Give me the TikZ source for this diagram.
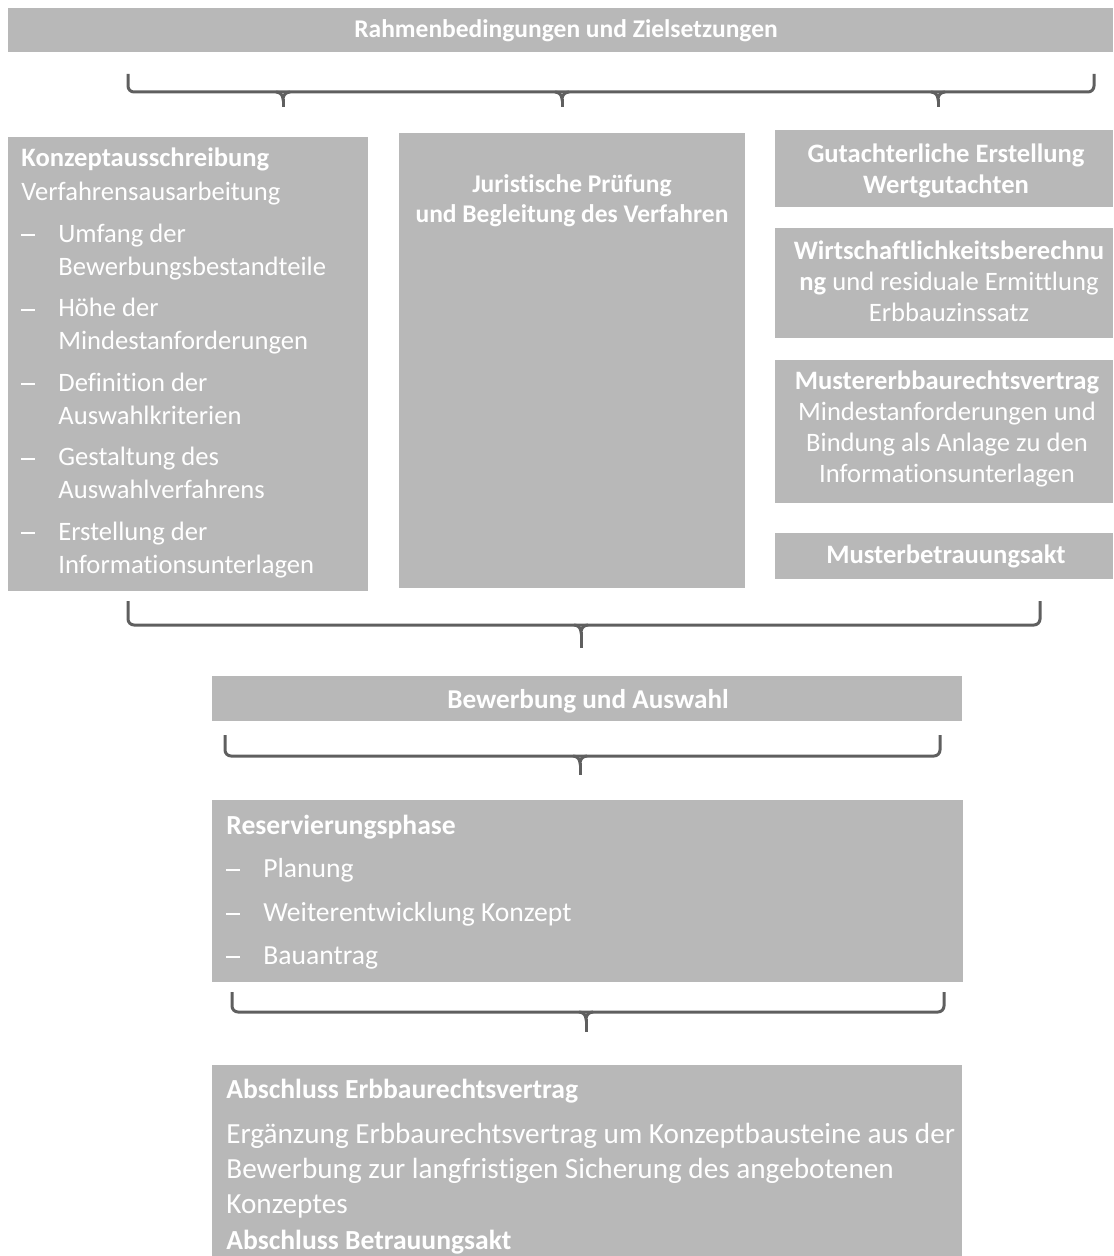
\documentclass[tikz,border=0pt]{standalone}
\usepackage{fontspec}
\setmainfont{Carlito}[Ligatures={TeX,NoCommon}]
\usetikzlibrary{positioning}

\definecolor{kastengrau}{RGB}{184,184,184}
\definecolor{klammergrau}{RGB}{95,95,95}
\newcommand{\strich}{\makebox[18.5pt][l]{\rule[3.2pt]{7pt}{0.9pt}}}
\newcommand{\einzug}{\hspace*{18.5pt}}

\begin{document}
\begin{tikzpicture}[x=0.5pt,y=-0.5pt,
    kasten/.style={fill=kastengrau, inner sep=0pt},
    weiss/.style={text=white, inner sep=0pt, font=\fontsize{13.3}{16.5}\selectfont},
    klein/.style={text=white, inner sep=0pt, font=\fontsize{12.75}{15}\selectfont\bfseries},
    rechts/.style={text=white, inner sep=0pt, font=\fontsize{13.3}{15.5}\selectfont},
    klammer/.style={draw=klammergrau, line width=1.5pt, rounded corners=3pt},
    spitze/.style={draw=klammergrau, line width=1.5pt}]

\useasboundingbox (0,0) rectangle (1113,1256);

% Kopfleiste
\node[kasten, minimum width=552.5pt, minimum height=22pt] (rahmen) at (560.5,30) {};
\node[klein, anchor=base] (rahmentext) at (566,38) {Rahmenbedingungen und Zielsetzungen};

% Klammer unter der Kopfleiste
\coordinate (k1l) at (128,74);
\coordinate (k1r) at (1094,74);
\coordinate (k1m) at (600,92);
\draw[klammer] (k1l) -- (k1l |- k1m) -- (k1r |- k1m) -- (k1r);
\foreach \x in {283,562,938} {
    \draw[spitze] (\x-7,92) to[out=0,in=90] (\x,99) to[out=90,in=180] (\x+7,92);
    \draw[spitze] (\x,99) -- (\x,107);
}

% Linke Spalte
\node[kasten, minimum width=180pt, minimum height=227pt] (konzept) at (188,364) {};
\node[weiss, anchor=base west] (konzepttext) at (21,167) {\parbox[t]{172pt}{\raggedright
    \textbf{Konzeptausschreibung}\\[0.5pt]
    Verfahrensausarbeitung\\[4.25pt]
    \strich Umfang der\\ \einzug Bewerbungsbestandteile\\[4.25pt]
    \strich Höhe der\\ \einzug Mindestanforderungen\\[4.25pt]
    \strich Definition der\\ \einzug Auswahlkriterien\\[4.25pt]
    \strich Gestaltung des\\ \einzug Auswahlverfahrens\\[4.25pt]
    \strich Erstellung der\\ \einzug Informationsunterlagen}};

% Mittlere Spalte
\node[kasten, minimum width=173pt, minimum height=227.5pt] (juristisch) at (572,360.5) {};
\node[klein, anchor=base] (juristischtext) at (572,193) {\parbox[t]{172pt}{\centering
    Juristische Prüfung\\ und Begleitung des Verfahren}};

% Rechte Spalte
\node[kasten, minimum width=169pt, minimum height=38.5pt] (gutachten) at (944,168.5) {};
\node[rechts, anchor=base] (gutachtentext) at (946,163) {\parbox[t]{168pt}{\centering
    \textbf{Gutachterliche Erstellung}\\ \textbf{Wertgutachten}}};

\node[kasten, minimum width=169pt, minimum height=55pt] (wirtschaft) at (944,283) {};
\node[rechts, anchor=base] (wirtschafttext) at (949,260) {\parbox[t]{168pt}{\centering
    \textbf{Wirtschaftlichkeitsberechnu}\\ \textbf{ng} und residuale Ermittlung\\ Erbbauzinssatz}};

\node[kasten, minimum width=169pt, minimum height=71.5pt] (mustervertrag) at (944,431.5) {};
\node[rechts, anchor=base] (mustervertragtext) at (947,390) {\parbox[t]{168pt}{\centering
    \textbf{Mustererbbaurechtsvertrag}\\ Mindestanforderungen und\\ Bindung als Anlage zu den\\ Informationsunterlagen}};

\node[kasten, minimum width=169pt, minimum height=23pt] (musterakt) at (944,556) {};
\node[rechts, anchor=base] (musterakttext) at (946,563) {\textbf{Musterbetrauungsakt}};

% Klammer unter den drei Spalten
\coordinate (k2l) at (128,601);
\coordinate (k2r) at (1040,601);
\coordinate (k2m) at (581,625);
\draw[klammer] (k2l) -- (k2l |- k2m) -- (k2r |- k2m) -- (k2r);
\draw[spitze] (574,625) to[out=0,in=90] (581,632) to[out=90,in=180] (588,625);
\draw[spitze] (581,632) -- (581,648);

% Bewerbung
\node[kasten, minimum width=375pt, minimum height=22.5pt] (bewerbung) at (587,698.5) {};
\node[klein, anchor=base, font=\fontsize{13.6}{15}\selectfont\bfseries] (bewerbungtext) at (588,708) {Bewerbung und Auswahl};

\coordinate (k3l) at (225,735);
\coordinate (k3r) at (940,735);
\coordinate (k3m) at (580,756);
\draw[klammer] (k3l) -- (k3l |- k3m) -- (k3r |- k3m) -- (k3r);
\draw[spitze] (573,756) to[out=0,in=90] (580,763) to[out=90,in=180] (587,756);
\draw[spitze] (580,763) -- (580,775);

% Reservierungsphase
\node[kasten, minimum width=375.5pt, minimum height=91pt] (reservierung) at (587.5,891) {};
\node[weiss, anchor=base west, font=\fontsize{13.8}{16.5}\selectfont] (reservierungtext) at (226,834) {\parbox[t]{360pt}{\raggedright
    \textbf{Reservierungsphase}\\[5.25pt]
    \strich Planung\\[5.25pt]
    \strich Weiterentwicklung Konzept\\[5.25pt]
    \strich Bauantrag}};

\coordinate (k4l) at (232,992);
\coordinate (k4r) at (944,992);
\coordinate (k4m) at (586,1012);
\draw[klammer] (k4l) -- (k4l |- k4m) -- (k4r |- k4m) -- (k4r);
\draw[spitze] (579,1012) to[out=0,in=90] (586,1019) to[out=90,in=180] (593,1012);
\draw[spitze] (586,1019) -- (586,1032);

% Abschluss
\node[kasten, minimum width=375pt, minimum height=95.5pt] (abschluss) at (587,1160.5) {};
\node[weiss, anchor=base west, font=\fontsize{14.6}{17.5}\selectfont] (abschlusstext) at (226,1098) {\parbox[t]{368pt}{\raggedright
    {\fontsize{13.8}{17.5}\selectfont\textbf{Abschluss Erbbaurechtsvertrag}}\\[5pt]
    Ergänzung Erbbaurechtsvertrag um Konzeptbausteine aus der\\
    Bewerbung zur langfristigen Sicherung des angebotenen\\
    Konzeptes\\[0.5pt]
    {\fontsize{13.8}{17.5}\selectfont\textbf{Abschluss Betrauungsakt}}}};

\end{tikzpicture}
\end{document}
